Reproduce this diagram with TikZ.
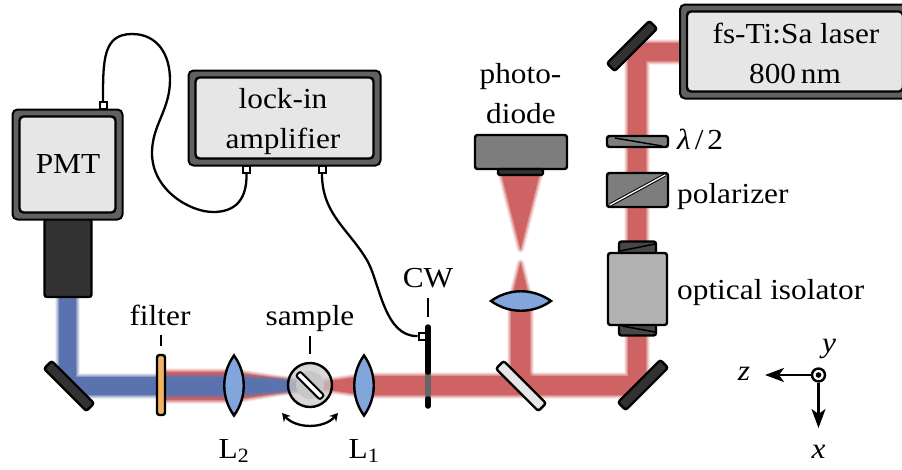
\documentclass[tikz,border=0pt]{standalone}
\usepackage{amsmath,amssymb}
\usepackage{fontspec}
\setmainfont[FakeStretch=1.08]{Liberation Serif}
\usepackage{tikz}
\usetikzlibrary{calc}
\usetikzlibrary{arrows.meta}
\definecolor{beamred}{RGB}{207,98,98}
\definecolor{beamblue}{RGB}{90,115,175}
\definecolor{lensblue}{RGB}{130,165,220}
\definecolor{filterorange}{RGB}{240,180,100}
\definecolor{darkpart}{RGB}{50,50,50}
\definecolor{midpart}{RGB}{125,125,125}
\definecolor{lightpart}{RGB}{230,230,230}
\tikzset{
    part/.style={draw=black, line width=2.4pt, rounded corners=2.5pt, inner sep=0pt},
    mirror/.style={part, fill=darkpart, minimum width=60pt, minimum height=11pt},
    plug/.style={draw=black, line width=2pt, fill=white, inner sep=0pt, minimum size=7pt},
    cable/.style={draw=black, line width=2.3pt},
    tick/.style={draw=black, line width=2.2pt},
    lbl/.style={inner sep=0pt, anchor=base, font=\fontsize{29}{41}\selectfont},
    lblw/.style={lbl, anchor=base west},
}
\newcommand{\beam}[2]{
    \foreach \w/\o in {8/.1,6/.2,4/.3,2/.4}{\draw[#1, line width=\w pt, opacity=\o, line join=round] #2;}
    \fill[#1] #2;}
\newcommand{\lens}[3]{\draw[part, fill=lensblue, rounded corners=0pt, shift={(#1,#2)}, rotate=#3] (0,-30) .. controls (-13,-12) and (-13,12) .. (0,30) .. controls (13,12) and (13,-12) .. cycle;}
\newcommand{\instr}[5]{
    \node[part, line width=2pt, fill=black!62, rounded corners=5pt, minimum width=#4 pt, minimum height=#5 pt] (#1) at (#2,#3) {};
    \node[part, fill=lightpart, rounded corners=4pt, minimum width=#4 pt-14pt, minimum height=#5 pt-14pt] (#1inner) at (#2,#3) {};}

\begin{document}
\begin{tikzpicture}[x=1pt, y=-1pt]
        \path[use as bounding box, clip] (0,0) rectangle (902,469);
        % beams
        \beam{beamred}{(680,43) -- (636,43) -- (628,52) -- (628,376) -- (364,376) -- (312,383.5) -- (312,387.5) -- (364,395) -- (630,395) -- (646,378) -- (646,61) -- (680,61) -- cycle}
        \beam{beamred}{(511,378) -- (511,301) -- (520.5,263) -- (530,301) -- (530,378) -- cycle}
        \beam{beamred}{(502,176) -- (539,176) -- (520.5,249) -- cycle}
        \beam{beamred}{(165,372) -- (234,372) -- (316,384) -- (316,387) -- (234,400) -- (165,400) -- cycle}
        \beam{beamblue}{(59,296) -- (76,296) -- (76,377) -- (234,377) -- (312,382.5) -- (312,388.5) -- (234,395) -- (82,395) -- (59,372) -- cycle}
        % mirrors
        \node[mirror, rotate=-45] (mirrorpmt) at (69,386) {};
        \node[mirror, rotate=45] (mirrorlaser) at (632,46) {};
        \node[mirror, rotate=45] (mirrorbottom) at (643,385) {};
        \node[mirror, rotate=-45, fill=lightpart] (splitter) at (521,386) {};
        % photomultiplier
        \node[part, fill=darkpart, minimum width=47pt, minimum height=78pt] (pmthead) at (68,258) {};
        \instr{pmt}{67.5}{164.5}{110}{110}
        \node[plug] (pmtplug) at (103,105.5) {};
        % lock-in
        \instr{lockin}{284.5}{118}{192}{95}
        \node[plug] (lockinplugA) at (246.5,169.5) {};
        \node[plug] (lockinplugB) at (322,169.5) {};
        % laser
        \instr{laser}{795}{51.5}{230}{94}
        % lower row
        \node[part, fill=filterorange, minimum width=8pt, minimum height=60pt] (filter) at (161,385) {};
        \lens{234}{385.5}{0}
        \lens{364}{385.5}{0}
        \node[part, circle, fill=black!22, fill opacity=.72, minimum size=44pt] (sample) at (310,385) {};
        \fill[black!22] (sample) circle (14pt);
        \node[part, fill=white, rotate=-45, rounded corners=2pt, line width=2pt, minimum width=34pt, minimum height=6pt] (slab) at (310,385.5) {};
        \coordinate (turnA) at (282,413);
        \coordinate (turnB) at (338,413);
        \draw[cable, {Stealth[length=8pt,width=9pt]}-{Stealth[length=8pt,width=9pt]}] (turnA) .. controls (296,429) and (324,429) .. (turnB);
        % chopper
        \coordinate (cwtop) at (428,327);
        \coordinate (cwupper) at (428,372);
        \coordinate (cwlower) at (428,399);
        \coordinate (cwbottom) at (428,406);
        \draw[draw=black!60, line width=5.5pt] (cwupper) -- (cwlower);
        \draw[draw=black, line width=5.5pt, line cap=round] (cwtop) -- (cwupper);
        \draw[draw=black, line width=5.5pt, line cap=round] (cwlower) -- (cwbottom);
        \node[plug] (cwplug) at (422,336) {};
        % photodiode
        \node[part, fill=midpart, minimum width=92pt, minimum height=34pt] (diode) at (521,152) {};
        \node[part, fill=darkpart, rounded corners=1.5pt, minimum width=45pt, minimum height=6pt] (sensor) at (520.5,172) {};
        \lens{521}{301}{90}
        % column right
        \node[part, fill=midpart, minimum width=61pt, minimum height=11pt] (plate) at (637.5,141.5) {};
        \draw[draw=black, line width=1.5pt] (615,138) -- (662,146);
        \node[part, fill=midpart, minimum width=61pt, minimum height=34pt] (polarizer) at (637.5,190) {};
        \draw[draw=black, line width=3.4pt] (610,205) -- (665,175);
        \draw[draw=white, line width=1.3pt] (610,205) -- (665,175);
        \node[part, fill=black!72, minimum width=37pt, minimum height=13pt] (isotop) at (637.5,248) {};
        \node[part, fill=black!72, minimum width=37pt, minimum height=13pt] (isobot) at (637.5,329) {};
        \draw[draw=black, line width=1.5pt] (620,251) -- (655,244);
        \draw[draw=black, line width=1.5pt] (622,326) -- (655,332);
        \node[part, fill=black!30, minimum width=59pt, minimum height=72pt] (isolator) at (637.5,289) {};
        % cables
        \draw[cable] (pmtplug.north) .. controls (103,60) and (103,34) .. (132,34) .. controls (158,34) and (170,55) .. (170,80) .. controls (170,110) and (152,125) .. (152,153) .. controls (152,190) and (190,212) .. (213,212) .. controls (235,212) and (247,200) .. (lockinplugA.south);
        \draw[cable] (lockinplugB.south) .. controls (322,215) and (350,230) .. (368,262) .. controls (380,285) and (385,337) .. (cwplug.west);
        % ticks
        \draw[tick] ([yshift=8pt]filter.north) -- ([yshift=19pt]filter.north);
        \draw[tick] ([yshift=8pt]sample.north) -- ([yshift=26pt]sample.north);
        \draw[tick] ([yshift=10pt]cwtop) -- ([yshift=29pt]cwtop);
        % labels
        \node[lbl] (pmtlbl) at (68,173) {PMT};
        \node[lbl] (lockinlbl) at (283,108) {lock-in};
        \node[lbl] (amplifierlbl) at (283,148) {amplifier};
        \node[lbl] (laserlbl) at (796,43) {fs-Ti:Sa laser};
        \node[lbl] (powerlbl) at (795,83) {800\,nm};
        \node[lbl] (filterlbl) at (160,325) {filter};
        \node[lbl] (samplelbl) at (310,325) {sample};
        \node[lbl] (cwlbl) at (428,287) {CW};
        \node[lbl] (lensBlbl) at (234,458) {L\textsubscript{2}};
        \node[lbl] (lensAlbl) at (364,458) {L\textsubscript{1}};
        \node[lbl] (photolbl) at (520.5,83) {photo-};
        \node[lbl] (diodelbl) at (521,123) {diode};
        \node[lblw] (platelbl) at (677,149) {\textit{λ}\hspace{4pt}/\hspace{4pt}2};
        \node[lblw] (polarizerlbl) at (677,203) {polarizer};
        \node[lblw] (isolatorlbl) at (677,299) {optical isolator};
        % axes
        \node[draw=black, line width=2.4pt, fill=white, circle, inner sep=0pt, minimum size=13pt] (axes) at (818.5,375) {};
        \fill[black] (axes) circle (2.8pt);
        \coordinate (axisz) at (765,375);
        \coordinate (axisx) at (818.5,428);
        \draw[cable, -{Stealth[length=19pt,width=14pt,inset=5pt]}] (axes.west) -- (axisz);
        \draw[cable, -{Stealth[length=19pt,width=14pt,inset=5pt]}] (axes.south) -- (axisx);
        \node[lbl] (zlbl) at (744,380) {\textit{z}};
        \node[lbl] (ylbl) at (829,352) {\textit{y}};
        \node[lbl] (xlbl) at (818.5,458) {\textit{x}};
    \end{tikzpicture}
\end{document}
